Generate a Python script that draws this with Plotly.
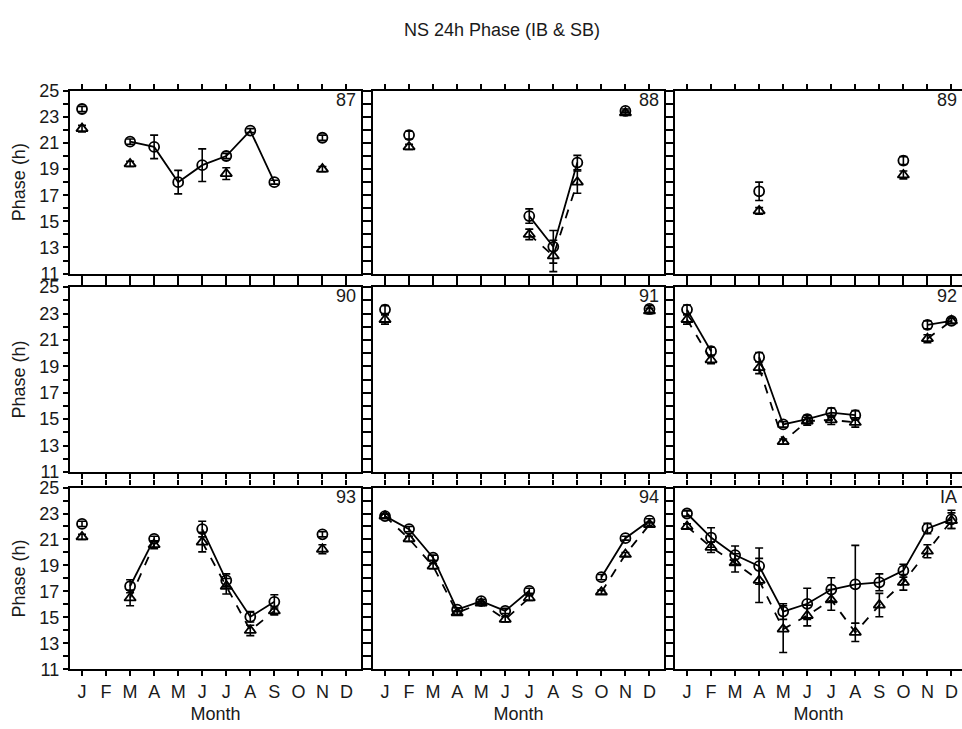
import plotly.graph_objects as go

# Month axis
months = ["J", "F", "M", "A", "M", "J", "J", "A", "S", "O", "N", "D"]
month_num = list(range(1, 13))
panel_labels = ["87", "88", "89", "90", "91", "92", "93", "94", "IA"]

N = None

# Circle series (IB) and triangle series (SB): monthly mean phase (h) and error
ib_87 = [23.6, N, 21.1, 20.7, 18.0, 19.3, 20.0, 21.95, 18.0, N, 21.4, N]
ib_87_err = [0.2, 0, 0.2, 0.9, 0.9, 1.25, 0.2, 0.15, 0.15, 0, 0.2, 0]
sb_87 = [22.1, N, 19.4, N, N, N, 18.65, N, N, N, 19.0, N]
sb_87_err = [0.25, 0, 0.2, 0, 0, 0, 0.45, 0, 0, 0, 0.2, 0]

ib_88 = [N, 21.6, N, N, N, N, 15.4, 13.05, 19.5, N, 23.45, N]
ib_88_err = [0, 0.3, 0, 0, 0, 0, 0.55, 1.25, 0.55, 0, 0.15, 0]
sb_88 = [N, 20.7, N, N, N, N, 14.0, 12.35, 18.0, N, 23.3, N]
sb_88_err = [0, 0.2, 0, 0, 0, 0, 0.4, 1.2, 0.85, 0, 0.15, 0]

ib_89 = [N, N, N, 17.3, N, N, N, N, N, 19.65, N, N]
ib_89_err = [0, 0, 0, 0.7, 0, 0, 0, 0, 0, 0.3, 0, 0]
sb_89 = [N, N, N, 15.8, N, N, N, N, N, 18.55, N, N]
sb_89_err = [0, 0, 0, 0.25, 0, 0, 0, 0, 0, 0.3, 0, 0]

ib_90 = [N] * 12
ib_90_err = [0] * 12
sb_90 = [N] * 12
sb_90_err = [0] * 12

ib_91 = [23.3, N, N, N, N, N, N, N, N, N, N, 23.35]
ib_91_err = [0.3, 0, 0, 0, 0, 0, 0, 0, 0, 0, 0, 0.25]
sb_91 = [22.55, N, N, N, N, N, N, N, N, N, N, 23.2]
sb_91_err = [0.35, 0, 0, 0, 0, 0, 0, 0, 0, 0, 0, 0.2]

ib_92 = [23.3, 20.15, N, 19.7, 14.6, 15.0, 15.5, 15.3, N, N, 22.15, 22.45]
ib_92_err = [0.35, 0.3, 0, 0.35, 0.2, 0.3, 0.35, 0.35, 0, 0, 0.3, 0.2]
sb_92 = [22.55, 19.5, N, 18.9, 13.3, 14.85, 14.95, 14.75, N, N, 21.1, 22.45]
sb_92_err = [0.35, 0.3, 0, 0.45, 0.2, 0.3, 0.35, 0.35, 0, 0, 0.3, 0.2]

ib_93 = [22.2, N, 17.4, 21.05, N, 21.8, 17.85, 15.05, 16.2, N, 21.4, N]
ib_93_err = [0.2, 0, 0.5, 0.2, 0, 0.6, 0.5, 0.4, 0.55, 0, 0.2, 0]
sb_93 = [21.2, N, 16.5, 20.6, N, 20.8, 17.4, 14.0, 15.5, N, 20.25, N]
sb_93_err = [0.2, 0, 0.6, 0.3, 0, 0.75, 0.6, 0.4, 0.3, 0, 0.35, 0]

ib_94 = [22.8, 21.8, 19.6, 15.6, 16.25, 15.5, 17.05, N, N, 18.1, 21.1, 22.45]
ib_94_err = [0.15, 0.2, 0.2, 0.15, 0.15, 0.2, 0.2, 0, 0, 0.2, 0.15, 0.15]
sb_94 = [22.8, 21.05, 18.95, 15.35, 16.1, 14.85, 16.5, N, N, 16.95, 19.85, 22.15]
sb_94_err = [0.15, 0.2, 0.2, 0.15, 0.15, 0.2, 0.2, 0, 0, 0.15, 0.15, 0.15]

ib_ia = [23.0, 21.15, 19.8, 18.95, 15.45, 16.05, 17.15, 17.55, 17.7, 18.6, 21.85, 22.55]
ib_ia_err = [0.2, 0.75, 0.7, 1.4, 0.6, 1.2, 0.9, 3.0, 0.65, 0.5, 0.4, 0.7]
sb_ia = [22.0, 20.4, 19.2, 17.85, 14.1, 15.15, 16.35, 13.85, 15.95, 17.7, 20.1, 22.45]
sb_ia_err = [0.2, 0.4, 0.7, 1.7, 1.8, 0.8, 0.8, 0.7, 0.9, 0.6, 0.5, 0.6]

panels = [
    (ib_87, ib_87_err, sb_87, sb_87_err),
    (ib_88, ib_88_err, sb_88, sb_88_err),
    (ib_89, ib_89_err, sb_89, sb_89_err),
    (ib_90, ib_90_err, sb_90, sb_90_err),
    (ib_91, ib_91_err, sb_91, sb_91_err),
    (ib_92, ib_92_err, sb_92, sb_92_err),
    (ib_93, ib_93_err, sb_93, sb_93_err),
    (ib_94, ib_94_err, sb_94, sb_94_err),
    (ib_ia, ib_ia_err, sb_ia, sb_ia_err),
]

W, H = 962, 729
FONT = "Liberation Sans, Arial, Helvetica, sans-serif"
FS = 18

# Panel placement in pixels (left, right) / (top, bottom)
col_px = [(70, 361), (373, 664), (675, 962)]
row_px = [(83, 271), (285, 475), (491, 678)]
px_per_month = 24.04


def xdom(c):
    a, b = col_px[c]
    return [a / W, b / W]


def ydom(r):
    t, b = row_px[r]
    return [1 - b / H, 1 - t / H]


def xrange_for(c):
    a, b = col_px[c]
    start = 0.5
    return [start, start + (b - a) / px_per_month]


fig = go.Figure()
layout = dict(
    width=W, height=H, autosize=False,
    margin=dict(l=0, r=0, t=0, b=0, pad=0),
    paper_bgcolor="white", plot_bgcolor="white",
    showlegend=False,
    font=dict(family=FONT, size=FS, color="#1a1a1a"),
)

annotations = []
for i, (ib, ib_err, sb, sb_err) in enumerate(panels):
    r, c = divmod(i, 3)
    n = i + 1
    suffix = "" if n == 1 else str(n)
    xa, ya = "x" + suffix, "y" + suffix

    fig.add_trace(go.Scatter(
        x=month_num, y=sb, xaxis=xa, yaxis=ya, mode="lines+markers",
        connectgaps=False,
        line=dict(color="black", width=1.8, dash="dash"),
        marker=dict(symbol="triangle-up-open", size=10, color="black",
                    line=dict(color="black", width=1.8)),
        error_y=dict(type="data", array=sb_err, visible=True,
                     color="black", thickness=1.6, width=4),
    ))
    fig.add_trace(go.Scatter(
        x=month_num, y=ib, xaxis=xa, yaxis=ya, mode="lines+markers",
        connectgaps=False,
        line=dict(color="black", width=1.8),
        marker=dict(symbol="circle-open", size=10, color="black",
                    line=dict(color="black", width=1.8)),
        error_y=dict(type="data", array=ib_err, visible=True,
                     color="black", thickness=1.6, width=4),
    ))

    layout["xaxis" + suffix] = dict(
        domain=xdom(c), anchor=ya, range=xrange_for(c),
        tickmode="array", tickvals=month_num, ticktext=months,
        showticklabels=(r == 2), ticks="outside", ticklen=5, tickwidth=1.8,
        tickcolor="black",
        showline=True, linewidth=2.2, linecolor="black", mirror="allticks",
        showgrid=False, zeroline=False,
        tickfont=dict(size=FS),
        title=dict(text="Month", standoff=6, font=dict(size=FS)) if r == 2 else None,
    )
    layout["yaxis" + suffix] = dict(
        domain=ydom(r), anchor=xa, range=[11, 25],
        tickmode="linear", tick0=11, dtick=2,
        showticklabels=(c == 0), ticks="outside", ticklen=5, tickwidth=1.8,
        tickcolor="black",
        minor=dict(tickmode="linear", tick0=11, dtick=1, ticks="outside",
                   ticklen=5, tickwidth=1.8, tickcolor="black", showgrid=False),
        showline=True, linewidth=2.2, linecolor="black",
        mirror=("allticks" if c < 2 else False),
        showgrid=False, zeroline=False,
        tickfont=dict(size=FS),
        title=dict(text="Phase (h)", standoff=9, font=dict(size=FS)) if c == 0 else None,
    )

    annotations.append(dict(
        text=panel_labels[i], xref=f"{xa} domain", yref=f"{ya} domain",
        x=1, y=1, xanchor="right", yanchor="top", xshift=-3, yshift=3,
        showarrow=False, font=dict(size=FS),
    ))

annotations.append(dict(
    text="NS 24h Phase (IB &amp; SB)", xref="paper", yref="paper",
    x=502 / W, y=1 - 21 / H, xanchor="center", yanchor="middle",
    showarrow=False, font=dict(size=18),
))
layout["annotations"] = annotations

fig.update_layout(**layout)
fig.write_html("out.html")
